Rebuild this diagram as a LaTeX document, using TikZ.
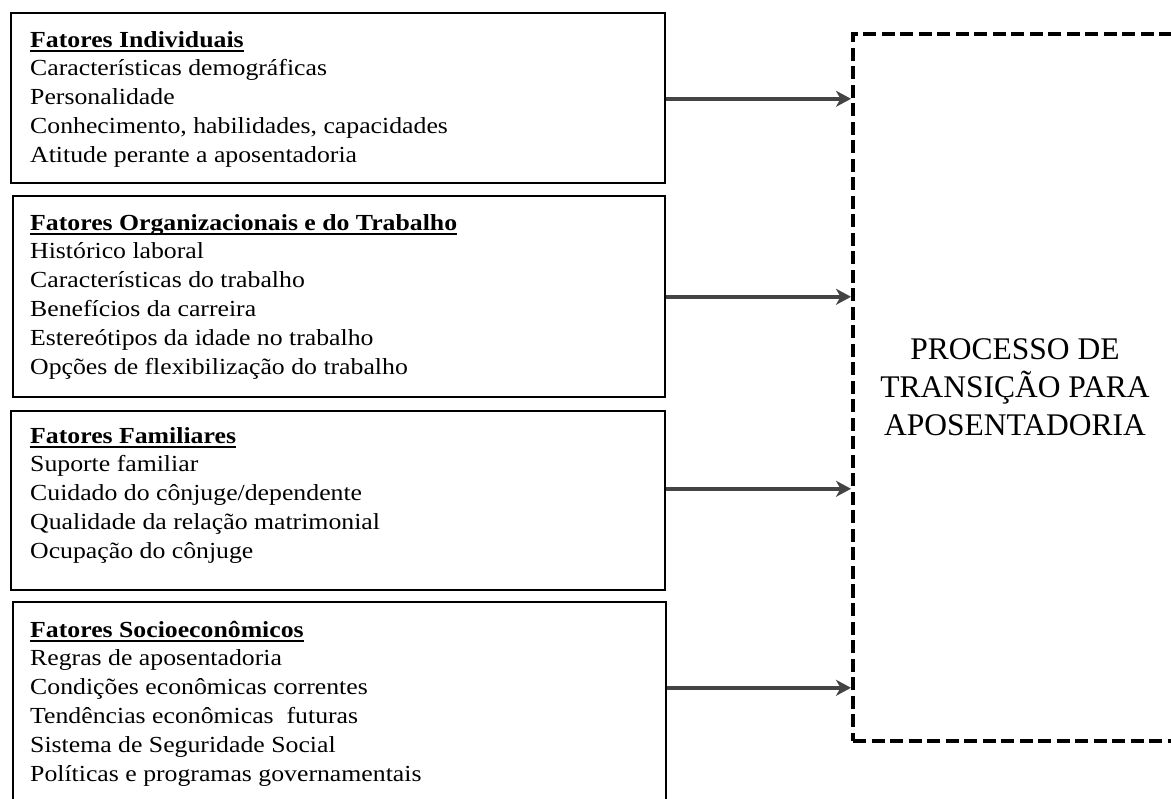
\documentclass[tikz,border=0pt]{standalone}
\usepackage{fontspec}
\setmainfont{Liberation Serif}
\newfontfamily\wideserif[FakeStretch=1.12]{Liberation Serif}
\usetikzlibrary{arrows.meta,calc}
\definecolor{arrowgray}{HTML}{444444}

% bold heading with an underline at a fixed depth below the baseline
\newcommand\headul[1]{\setbox0\hbox{\bfseries #1}\rlap{\rule[-5pt]{\wd0}{1.8pt}}\box0}

\tikzset{
  factorbox/.style={draw=black, line width=1.6pt, anchor=north west, inner sep=0pt},
  factortext/.style={anchor=north west, inner sep=0pt, align=left,
    font=\wideserif\fontsize{23}{28.8}\selectfont},
  flow/.style={draw=arrowgray, line width=3.5pt,
    -{Stealth[length=15pt,width=16pt,inset=4.5pt]}},
  processbox/.style={draw=black, line width=4pt, dash pattern=on 13pt off 5.5pt,
    align=center, font=\fontsize{31.5}{38}\selectfont}
}

\begin{document}
\begin{tikzpicture}[x=1pt,y=-1pt]
\useasboundingbox (0,0) rectangle (1171,799);

% factor boxes
\node[factorbox, minimum width=654pt, minimum height=170pt] (b1) at (10,12) {};
\node[factorbox, minimum width=652pt, minimum height=201pt] (b2) at (12,195) {};
\node[factorbox, minimum width=654pt, minimum height=179pt] (b3) at (10,410) {};
\node[factorbox, minimum width=653pt, minimum height=201pt] (b4) at (12,601) {};

% factor lists
\node[factortext] (t1) at (30,26.8) {\headul{Fatores Individuais}\strut\\
  Características demográficas\\
  Personalidade\\
  Conhecimento, habilidades, capacidades\\
  Atitude perante a aposentadoria};
\node[factortext] (t2) at (30,209.8) {\headul{Fatores Organizacionais e do Trabalho}\strut\\
  Histórico laboral\\
  Características do trabalho\\
  Benefícios da carreira\\
  Estereótipos da idade no trabalho\\
  Opções de flexibilização do trabalho};
\node[factortext] (t3) at (30,422.8) {\headul{Fatores Familiares}\strut\\
  Suporte familiar\\
  Cuidado do cônjuge/dependente\\
  Qualidade da relação matrimonial\\
  Ocupação do cônjuge};
\node[factortext] (t4) at (30,616.8) {\headul{Fatores Socioeconômicos}\strut\\
  Regras de aposentadoria\\
  Condições econômicas correntes\\
  Tendências econômicas\ \ futuras\\
  Sistema de Seguridade Social\\
  Políticas e programas governamentais};

% retirement transition process
\node[processbox, minimum width=324pt, minimum height=707pt, anchor=north west] (proc) at (851,32)
  {PROCESSO DE\\TRANSIÇÃO PARA\\APOSENTADORIA};

% influences
\draw[flow] ([yshift=-1pt]b1.east) -- ([yshift=-1pt]b1.east -| proc.west);
\draw[flow] ([yshift=-0.5pt]b2.east) -- ([yshift=-0.5pt]b2.east -| proc.west);
\draw[flow] ([yshift=11.5pt]b3.east) -- ([yshift=11.5pt]b3.east -| proc.west);
\draw[flow] ([yshift=14.5pt]b4.east) -- ([yshift=14.5pt]b4.east -| proc.west);
\end{tikzpicture}
\end{document}
